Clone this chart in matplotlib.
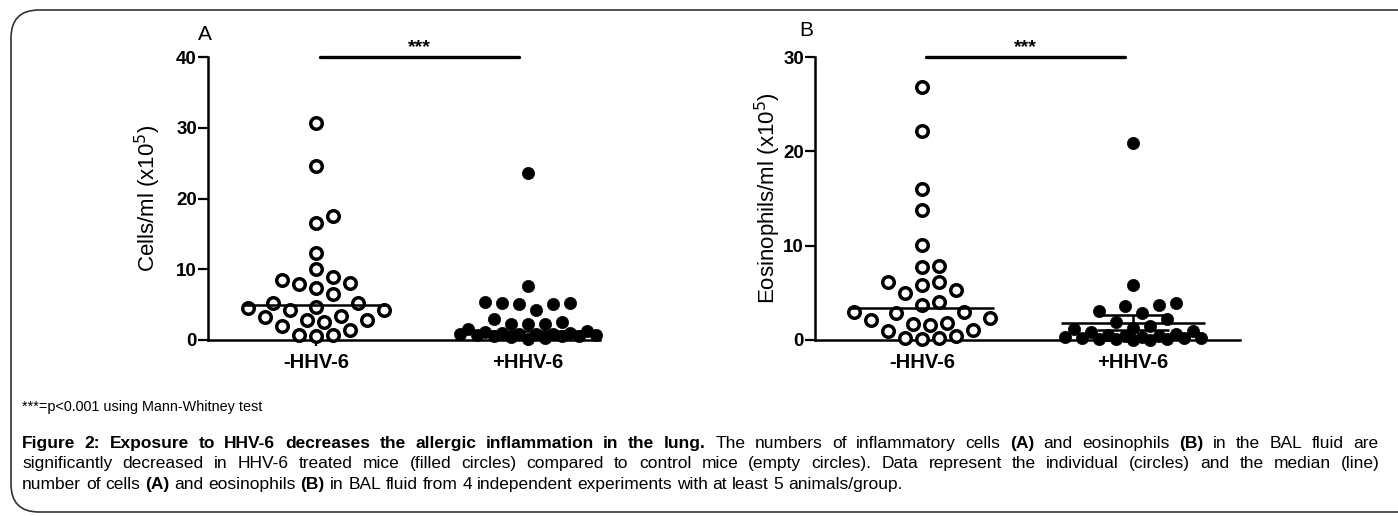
import numpy as np
import matplotlib
matplotlib.use("Agg")
import matplotlib.pyplot as plt
from matplotlib.patches import FancyBboxPatch

# ---------------- data ----------------
groups = ["-HHV-6", "+HHV-6"]

cells_ctrl = [30.7, 24.6, 17.5, 16.6, 12.3, 10.1, 8.9, 8.5, 8.0, 7.9, 7.4, 6.5,
              5.2, 5.2, 4.7, 4.5, 4.3, 4.2, 3.4, 3.2, 2.8, 2.8, 2.6, 2.0,
              1.4, 0.7, 0.7, 0.6]
cells_hhv6 = [23.6, 7.6, 5.4, 5.3, 5.2, 5.1, 5.1, 4.2, 3.0, 2.5, 2.3, 2.2, 2.2,
              1.5, 1.3, 1.2, 1.0, 1.0, 0.9, 0.9, 0.8, 0.8, 0.7, 0.7, 0.6, 0.5,
              0.5, 0.4, 0.3, 0.2]
cells_lines = [4.9, 1.3]          # median lines

eos_ctrl = [26.8, 22.2, 16.0, 13.8, 10.1, 7.8, 7.7, 6.1, 6.1, 5.8, 5.3, 5.0,
            4.0, 3.7, 3.0, 3.0, 2.9, 2.3, 2.1, 1.8, 1.7, 1.6, 1.1, 1.0,
            0.4, 0.2, 0.2, 0.1]
eos_hhv6 = [20.9, 5.8, 3.9, 3.7, 3.6, 3.1, 2.9, 2.2, 1.9, 1.5, 1.3, 1.2, 1.0,
            0.8, 0.6, 0.5, 0.4, 0.4, 0.3, 0.3, 0.2, 0.2, 0.2, 0.1, 0.1, 0.1,
            0.0, 0.0]
eos_lines = [3.35, 1.8]           # centre lines
eos_hhv6_err = [1.05, 2.6]        # error bar of the +HHV-6 group

cells_ticks = [0, 10, 20, 30, 40]
eos_ticks = [0, 10, 20, 30]
sig_text = "***"

footnote = "***=p<0.001 using Mann-Whitney test"
cap_line1 = [("Figure 2: Exposure to HHV-6 decreases the allergic inflammation in the lung.", True),
             ("The numbers of inflammatory cells", False), ("(A)", True),
             ("and eosinophils", False), ("(B)", True), ("in the BAL fluid are", False)]
cap_line2 = [("significantly decreased in HHV-6 treated mice (filled circles) compared to control "
              "mice (empty circles). Data represent the individual (circles) and the median (line)", False)]
cap_line3 = [("number of cells", False), ("(A)", True), ("and eosinophils", False), ("(B)", True),
             (" in BAL fluid from 4 independent experiments with at least 5 animals/group.", False)]

# ---------------- figure ----------------
W, H = 1398, 516
plt.rcParams['font.family'] = ['Liberation Sans', 'DejaVu Sans']
fig = plt.figure(figsize=(W / 100, H / 100), dpi=100)


def rect(x0, x1, ytop, ybot):
    return [x0 / W, 1 - ybot / H, (x1 - x0) / W, (ybot - ytop) / H]


axA = fig.add_axes(rect(208, 600, 57, 340))
axB = fig.add_axes(rect(815, 1240, 57, 340))


def swarm(ax, center, vals, min_dist=15.5, step=8.5, max_px=72):
    vals = np.asarray(vals, float)
    ypx = ax.transData.transform(np.column_stack([np.zeros_like(vals), vals]))[:, 1]
    p0 = ax.transData.transform([[0, 0], [1, 0]])
    ppx = p0[1, 0] - p0[0, 0]
    nst = int(max_px // step)
    cands = sorted([k * step for k in range(-nst, nst + 1)], key=lambda c: (abs(c), -c))
    px, py = [], []
    offs = np.zeros(len(vals))
    for i in np.argsort(vals, kind="stable"):
        chosen, best_c, best_d = None, 0.0, -1.0
        for c in cands:
            if px:
                d = np.min(np.hypot(np.array(px) - c, np.array(py) - ypx[i]))
            else:
                d = np.inf
            if d >= min_dist:
                chosen = c
                break
            if d > best_d:
                best_d, best_c = d, c
        if chosen is None:
            chosen = best_c
        px.append(chosen)
        py.append(ypx[i])
        offs[i] = chosen
    return center + offs / ppx


def panel(ax, ctrl, hhv, ymax, ticks, xlim, ylabel, lines, err=None):
    ax.set_xlim(*xlim)
    ax.set_ylim(0, ymax)
    for s in ("top", "right"):
        ax.spines[s].set_visible(False)
    for s in ("left", "bottom"):
        ax.spines[s].set_linewidth(1.8)
    ax.set_yticks(ticks)
    ax.set_yticklabels([str(t) for t in ticks], fontweight="bold", fontsize=13.5)
    ax.set_xticks([0, 1])
    ax.set_xticklabels(groups, fontweight="bold", fontsize=14.5)
    ax.tick_params(axis="y", direction="out", length=7, width=1.6, pad=1)
    ax.tick_params(axis="x", direction="out", length=4, width=1.6, pad=5)
    ax.set_ylabel(ylabel, fontsize=16)

    xc = swarm(ax, 0, ctrl)
    xh = swarm(ax, 1, hhv)
    ax.plot(xc, ctrl, "o", ms=8.3, mfc="white", mec="black", mew=2.5,
            ls="none", clip_on=False, zorder=3)
    ax.plot(xh, hhv, "o", ms=8.8, mfc="black", mec="black", mew=0.5,
            ls="none", clip_on=False, zorder=3)
    hw = 0.34
    for i, v in enumerate(lines):
        ax.hlines(v, i - hw, i + hw, color="black", lw=1.8, zorder=4)
    if err is not None:
        ax.hlines(err, 1 - 0.17, 1 + 0.17, color="black", lw=1.8, zorder=4)
        ax.vlines(1, err[0], err[1], color="black", lw=1.8, zorder=4)
    ax.plot([0.02, 0.96], [ymax, ymax], color="black", lw=2.4,
            solid_capstyle="round", clip_on=False)
    ax.annotate(sig_text, xy=(0.49, ymax), xytext=(0, 0.5), textcoords="offset points",
                ha="center", va="bottom", fontsize=14, fontweight="bold")


panel(axA, cells_ctrl, cells_hhv6, 40, cells_ticks, (-0.509, 1.34),
      "Cells/ml (x10$^{5}$)", cells_lines)
panel(axB, eos_ctrl, eos_hhv6, 30, eos_ticks, (-0.507, 1.507),
      "Eosinophils/ml (x10$^{5}$)", eos_lines, err=eos_hhv6_err)
axA.yaxis.set_label_coords((163 - 208) / 392, 0.5)
axB.yaxis.set_label_coords((783 - 815) / 425, 0.5)

fig.text(205 / W, 1 - 35 / H, "A", fontsize=15, ha="center", va="center")
fig.text(806 / W, 1 - 31 / H, "B", fontsize=15, ha="center", va="center")

# ---------------- caption ----------------
renderer = fig.canvas.get_renderer()
CAP = 12.5


def tline(tokens, y_px, x0, x1=None):
    words = []
    for seg, bold in tokens:
        for w in seg.split():
            words.append((w, bold))
    texts, widths = [], []
    for w, bold in words:
        t = fig.text(0, 1 - y_px / H, w, fontsize=CAP, va="baseline",
                     fontweight="bold" if bold else "normal")
        texts.append(t)
        widths.append(t.get_window_extent(renderer).width)
    sp = fig.text(0, 0, "x x", fontsize=CAP)
    sp2 = fig.text(0, 0, "xx", fontsize=CAP)
    space = sp.get_window_extent(renderer).width - sp2.get_window_extent(renderer).width
    sp.remove()
    sp2.remove()
    gap = space if x1 is None else (x1 - x0 - sum(widths)) / (len(words) - 1)
    x = x0
    for t, w in zip(texts, widths):
        t.set_x(x / W)
        x += w + gap


fig.text(22 / W, 1 - 411 / H, footnote, fontsize=10.4, va="baseline")
tline(cap_line1, 448, 22, 1378)
tline(cap_line2, 468, 22, 1380)
tline(cap_line3, 489, 22)

# frame
box = FancyBboxPatch((11 / W, 1 - 512 / H), 1.2, (512 - 10) / H,
                     boxstyle="round,pad=0,rounding_size=0.02",
                     transform=fig.transFigure, fill=False, ec="#333333", lw=1.2,
                     mutation_aspect=W / H)
fig.add_artist(box)

fig.savefig("out.png", dpi=100)
